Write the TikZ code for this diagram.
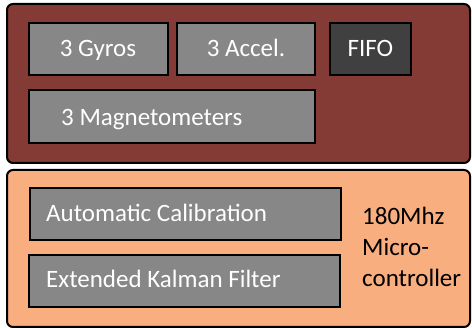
\documentclass[tikz,border=0pt]{standalone}
\usepackage{fontspec}
\setmainfont{Carlito}
\definecolor{darkred}{HTML}{843A35}
\definecolor{peach}{HTML}{F9AE80}
\definecolor{boxgray}{HTML}{878787}
\definecolor{fifogray}{HTML}{404040}
\begin{document}
\begin{tikzpicture}[x=1pt,y=-1pt,
  outer/.style={draw=black,line width=2pt,rounded corners=6pt},
  inner/.style={draw=black,line width=2.6pt,fill=boxgray},
  lbl/.style={font=\fontsize{25}{30}\selectfont,text=white,inner sep=0pt,anchor=base}]
\useasboundingbox (0,0) rectangle (472,328);
\draw[outer,fill=darkred] (7,4) rectangle (470,163);
\draw[outer,fill=peach] (7,170) rectangle (470,327);
\draw[inner] (29,23) rectangle (168,75);
\node[lbl] (gyro) at (98,57) {3 Gyros};
\draw[inner] (177,23) rectangle (315,75);
\node[lbl] (acc) at (246,57) {3 Accel.};
\draw[inner,fill=fifogray] (330,23) rectangle (411,75);
\node[lbl] (fifo) at (370.5,57) {FIFO};
\draw[inner] (29,90) rectangle (315,143);
\node[lbl,anchor=base west] (mag) at (61,126) {3 Magnetometers};
\draw[inner] (30,188) rectangle (341,240);
\node[lbl,anchor=base west] (cal) at (46,222) {Automatic Calibration};
\draw[inner] (29,255) rectangle (340,307);
\node[lbl,anchor=base west] (ekf) at (46,288) {Extended Kalman Filter};
\node[font=\fontsize{25}{31}\selectfont,align=left,anchor=base west,inner sep=0pt] (mc) at (362,287) {180Mhz\\Micro-\\controller};
\end{tikzpicture}
\end{document}
